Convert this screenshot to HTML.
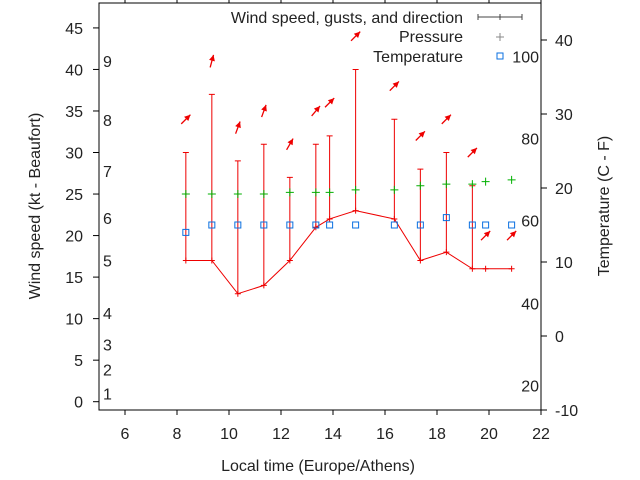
<!DOCTYPE html>
<html><head><meta charset="utf-8"><style>
body{margin:0;background:#fff}
svg{display:block;font-family:"Liberation Sans",Arial,sans-serif}
</style></head><body>
<svg id="chart" width="640" height="480" viewBox="0 0 640 480" xmlns="http://www.w3.org/2000/svg">
<rect x="99" y="3" width="442" height="407" fill="none" stroke="#000" stroke-width="1"/>
<g id="axes" font-size="16" fill="#222"></g>
<g id="marks"></g>
<text transform="translate(40,206) rotate(-90)" text-anchor="middle" font-size="16" fill="#222">Wind speed (kt - Beaufort)</text>
<text transform="translate(609,206) rotate(-90)" text-anchor="middle" font-size="16" fill="#222">Temperature (C - F)</text>
<text x="318" y="471" text-anchor="middle" font-size="16" fill="#222">Local time (Europe/Athens)</text>
<g font-size="16" fill="#222">
<text x="463" y="23" text-anchor="end">Wind speed, gusts, and direction</text>
<path d="M478 17H522M478 14V20M522 14V20M500 14V20" stroke="#444" stroke-width="1"/>
<text x="463" y="42" text-anchor="end">Pressure</text>
<path d="M496 37H504M500 33V41" stroke="#888" stroke-width="1"/>
<text x="463" y="62" text-anchor="end">Temperature</text>
<rect x="497" y="53" width="6" height="6" fill="none" stroke="#0a6fe0" stroke-width="1"/>
</g>
</svg>
<script>
const times=[8.34,9.34,10.34,11.34,12.34,13.34,13.87,14.87,16.36,17.36,18.36,19.36,19.87,20.87];
const wind=[17,17,13,14,17,21,22,23,22,17,18,16,16,16];
const gusts=[30,37,29,31,27,31,32,40,34,28,30,26,null,null];
const pressure=[25,25,25,25,25.2,25.2,25.2,25.5,25.5,26,26.2,26.2,26.5,26.7];
const temperature=[14,15,15,15,15,15,15,15,15,15,16,15,15,15];
const arrowLevel=[34,41,33,35,31,35,36,44,38,32,34,30,20,20];
const direction=[225,195,200,200,210,220,225,225,225,225,225,225,225,225];
const xTicks=[6,8,10,12,14,16,18,20,22];
const yTicks=[0,5,10,15,20,25,30,35,40,45];
const y2Ticks=[-10,0,10,20,30,40];
const beaufort=[[1,1],[2,3.9],[3,6.9],[4,10.7],[5,17],[6,22.1],[7,27.8],[8,33.9],[9,41]];
const fahrenheit=[[20,-6.7],[40,4.4],[60,15.6],[80,26.7],[100,37.8]];
const ns="http://www.w3.org/2000/svg";
const X=t=>99+(t-5)*(442/17);
const Y=v=>410-(v+1)*(407/49);
const Y2=T=>410-(T+10)*7.4;
const ax=document.getElementById('axes'),mk=document.getElementById('marks');
function el(p,tag,at){const e=document.createElementNS(ns,tag);for(const k in at)e.setAttribute(k,at[k]);p.appendChild(e);return e;}
xTicks.forEach(t=>{
 const l=el(ax,'path',{d:`M${X(t)} 410V415M${X(t)} 3V-2`,stroke:'#000'});
 
 
 const tx=el(ax,'text',{x:X(t),y:439,'text-anchor':'middle'});tx.textContent=t;
 
 
});
yTicks.forEach(v=>{
 const l=el(ax,'path',{d:`M93 ${Y(v)}H99`,stroke:'#000'});
 
 
 const tx=el(ax,'text',{x:83,y:Y(v)+6,'text-anchor':'end'});tx.textContent=v;
 
 
});
y2Ticks.forEach(v=>{
 const l=el(ax,'path',{d:`M541 ${Y2(v)}H547`,stroke:'#000'});
 
 
 const tx=el(ax,'text',{x:555,y:Y2(v)+6});tx.textContent=v;
 
 
});
beaufort.forEach(([b,v])=>{const tx=el(ax,'text',{x:103,y:Y(v)+6});tx.textContent=b;
 
 });
fahrenheit.forEach(([f,c])=>{const tx=el(ax,'text',{x:539,y:Y2(c)+6,'text-anchor':'end'});tx.textContent=f;
 
 });
const wl=el(mk,'polyline',{points:times.map((t,i)=>X(t)+','+Y(wind[i])).join(' '),fill:'none',stroke:'#e00',"stroke-width":1});


times.forEach((t,i)=>{
 const x=X(t);
 const p=el(mk,'path',{d:`M${x-3} ${Y(wind[i])}H${x+3}M${x} ${Y(wind[i])-3}V${Y(wind[i])+3}`,stroke:'#e00'});
 
 
 if(gusts[i]!=null){
  const g=el(mk,'path',{d:`M${x} ${Y(wind[i])}V${Y(gusts[i])}M${x-3} ${Y(gusts[i])}H${x+3}`,stroke:'#e00',"stroke-width":1});
  
  
 }
 const pr=el(mk,'path',{d:`M${x-4} ${Y(pressure[i])}H${x+4}M${x} ${Y(pressure[i])-4}V${Y(pressure[i])+4}`,stroke:'#00b000'});
 
 
 const sq=el(mk,'rect',{x:x-3,y:Y2(temperature[i])-3,width:6,height:6,fill:'none',stroke:'#0a6fe0'});
 
 
 const a=(direction[i]+180)*Math.PI/180, L=13, cy=Y(arrowLevel[i]);
 const dx=Math.sin(a)*L/2, dy=-Math.cos(a)*L/2;
 const hx=x+dx, hy=cy+dy, ux=dx/(L/2), uy=dy/(L/2);
 const ar=el(mk,'path',{d:`M${x-dx} ${cy-dy}L${hx} ${hy}`,stroke:'#e00',"stroke-width":1.3});
 
 
 const hd=el(mk,'polygon',{points:`${hx},${hy} ${hx-ux*6-uy*3},${hy-uy*6+ux*3} ${hx-ux*6+uy*3},${hy-uy*6-ux*3}`,fill:'#e00'});
 
 
});
</script>
</body></html>
